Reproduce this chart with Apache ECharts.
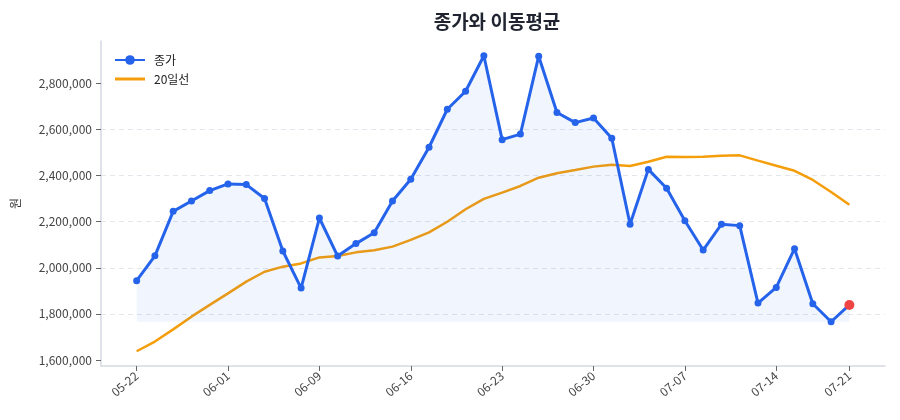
<!DOCTYPE html>
<html><head><meta charset="utf-8">
<script src="https://cdn.jsdelivr.net/npm/echarts@6/dist/echarts.min.js"></script>
<style>html,body{margin:0;padding:0;background:#fff}#c{width:900px;height:420px}</style>
</head><body><div id="c"></div>
<script>
const dates = ['05-22','05-23','05-24','05-25','05-26','06-01','06-02','06-05','06-07','06-08',
  '06-09','06-12','06-13','06-14','06-15','06-16','06-19','06-20','06-21','06-22',
  '06-23','06-26','06-27','06-28','06-29','06-30','07-03','07-04','07-05','07-06',
  '07-07','07-10','07-11','07-12','07-13','07-14','07-18','07-19','07-20','07-21'];
const close = [1944000,2052000,2245000,2290000,2335000,2364000,2361000,2301000,2073000,1912000,
  2216000,2051000,2105000,2152000,2290000,2384000,2523000,2688000,2766000,2920000,
  2556000,2580000,2918000,2674000,2630000,2650000,2562000,2189000,2427000,2345000,
  2204000,2077000,2189000,2183000,1847000,1915000,2083000,1844000,1766000,1839000];
const ma20 = [1638000,1680000,1733000,1788000,1839000,1889000,1940000,1983000,2005000,2019000,
  2045000,2051000,2067000,2076000,2092000,2121000,2154000,2200000,2254000,2299000,
  2326000,2355000,2391000,2410000,2424000,2439000,2447000,2442000,2460000,2482000,
  2481000,2482000,2486000,2488000,2465000,2443000,2421000,2381000,2329000,2274000];
const xTickIdx = [0,5,10,15,20,25,30,35,39];
const yTicks = [1600000,1800000,2000000,2200000,2400000,2600000,2800000];

const font = '"Noto Sans CJK KR", "Noto Sans", sans-serif';
const closeData = close.map((v,i)=>[i,v]);
const maData = ma20.map((v,i)=>[i,v]);
const last = close.length-1;
const chart = echarts.init(document.getElementById('c'), null, {renderer:'canvas'});
chart.setOption({
  animation:false,
  backgroundColor:'#fff',
  textStyle:{fontFamily:font},
  title:{text:'종가와 이동평균', left:492, top:7, textAlign:'center',
    textStyle:{fontFamily:font, fontSize:19, fontWeight:'bold', color:'#1f2430'}},
  legend:{orient:'vertical', left:109, top:49, itemWidth:30, itemHeight:12, itemGap:7,
    textStyle:{fontFamily:font, fontSize:12, color:'#222', padding:[0,0,0,4]},
    data:[{name:'종가'},{name:'20일선', icon:'path://M0 0H30V3H0Z'}]},
  grid:{left:101, right:15, top:41, bottom:54},
  xAxis:{type:'value', min:-1.95, max:last+1.95,
    axisLine:{show:true, onZero:false, lineStyle:{color:'#d5d9e2', width:1.5}},
    axisTick:{show:true, customValues:xTickIdx, length:5, lineStyle:{color:'#666'}},
    axisLabel:{customValues:xTickIdx, rotate:40, fontSize:12, color:'#444', margin:8,
      fontFamily:font, formatter:v=>dates[Math.round(v)]},
    splitLine:{show:false}},
  yAxis:{type:'value', min:1574000, max:2984000, splitNumber:7,
    name:'원', nameLocation:'middle', nameGap:80, nameRotate:90,
    nameTextStyle:{fontFamily:font, fontSize:12, color:'#333'},
    axisLine:{show:true, onZero:false, lineStyle:{color:'#d5d9e2', width:1.5}},
    axisTick:{show:true, customValues:yTicks, length:5, lineStyle:{color:'#666'}},
    axisLabel:{customValues:yTicks, fontSize:12, color:'#444', margin:9, fontFamily:font,
      formatter:v=>Math.round(v).toLocaleString('en-US')},
    splitLine:{show:true, showMinLine:false, showMaxLine:false,
      lineStyle:{color:'#e3e6ec', type:[5,4], width:1}}},
  series:[
    {name:'종가', type:'line', data:closeData, symbol:'circle', symbolSize:7,
      lineStyle:{color:'#2563eb', width:3}, itemStyle:{color:'#2563eb'},
      areaStyle:{color:'rgba(37,99,235,0.09)', origin:Math.min(...close)},
      markPoint:{symbol:'circle', symbolSize:10, itemStyle:{color:'#ef4444'}, label:{show:false},
        data:[{coord:[last, close[last]]}]},
      z:3},
    {name:'20일선', type:'line', data:maData, showSymbol:false, symbol:'none',
      lineStyle:{color:'#f59e0b', width:2.5}, itemStyle:{color:'#f59e0b'}, z:2}
  ]
});
</script></body></html>
